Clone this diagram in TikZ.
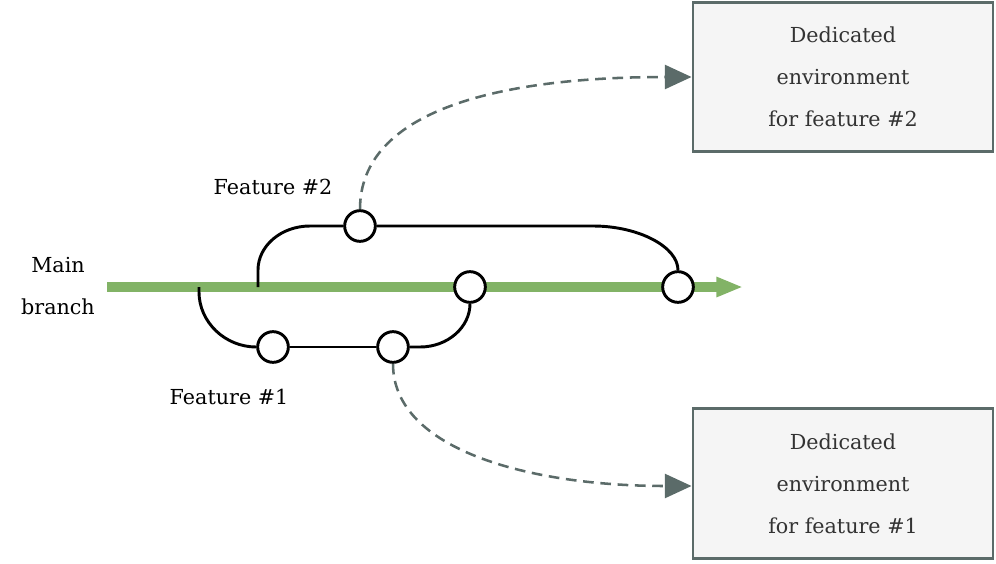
\documentclass[tikz,border=0pt]{standalone}
\usepackage{fontspec}
\setmainfont{DejaVu Serif}
\usetikzlibrary{arrows.meta}
\definecolor{mainline}{HTML}{82B366}
\definecolor{envline}{HTML}{5B6B69}
\definecolor{envfill}{HTML}{F5F5F5}
\definecolor{envtext}{HTML}{333333}
\tikzset{
  x=0.75pt, y=-0.75pt,
  mainbranch/.style={draw=mainline, line width=7.5pt,
    -{Triangle[length=20pt,width=14pt]}},
  branchline/.style={draw=black, line width=2.2pt},
  commit/.style={circle, draw=black, fill=white, line width=2.2pt,
    minimum size=23pt, inner sep=0pt},
  deploy/.style={draw=envline, line width=1.9pt, dash pattern=on 8pt off 5pt,
    -{Triangle[length=20pt,width=18pt]}},
  envbox/.style={draw=envline, fill=envfill, line width=2.2pt,
    minimum width=225pt, minimum height=112pt, align=center,
    text=envtext, font=\fontsize{15.5}{31.5}\selectfont},
  caption/.style={align=center, font=\fontsize{15.5}{31.5}\selectfont}
}
\begin{document}
\begin{tikzpicture}
\useasboundingbox (0,0) rectangle (996,564);

% main branch
\coordinate (mstart) at (107,287);
\coordinate (mend) at (743,287);
\draw[mainbranch] (mstart) -- (mend);

% fork points on the main line
\coordinate (f1fork) at (199,287);
\coordinate (f2fork) at (258,287);

% commits
\node[commit] (f2c1) at (360,226) {};
\node[commit] (mc1) at (470,287) {};
\node[commit] (mc2) at (678,287) {};
\node[commit] (f1c1) at (273,347) {};
\node[commit] (f1c2) at (393,347) {};

% feature #2 branch
\draw[branchline] (f2fork) -- (258,270) .. controls (258,246) and (281,226) .. (310,226) -- (f2c1.west);
\draw[branchline] (f2c1.east) -- (593,226) .. controls (639,226) and (678,247) .. (mc2.north);

% feature #1 branch
\draw[branchline] (f1fork) -- (199,292) .. controls (199,322) and (225,347) .. (f1c1.west);
\draw[branchline] (f1c1.east) -- (f1c2.west);
\draw[branchline] (f1c2.east) -- (420,347) .. controls (448,347) and (470,327) .. (mc1.south);

% environments
\node[envbox] (env2) at (843,77) {Dedicated\\environment\\for feature \#2};
\node[envbox] (env1) at (843,483.5) {Dedicated\\environment\\for feature \#1};

% deployments
\draw[deploy] (f2c1.north) .. controls (360,110) and (500,77) .. (env2.west);
\draw[deploy] (f1c2.south) .. controls (393,450) and (530,486) .. (env1.west |- 0,486);

% labels
\node[caption] (mainlbl) at (58,286) {Main\\branch};
\node[caption] (f2lbl) at (273,187) {Feature \#2};
\node[caption] (f1lbl) at (229,397) {Feature \#1};
\end{tikzpicture}
\end{document}
